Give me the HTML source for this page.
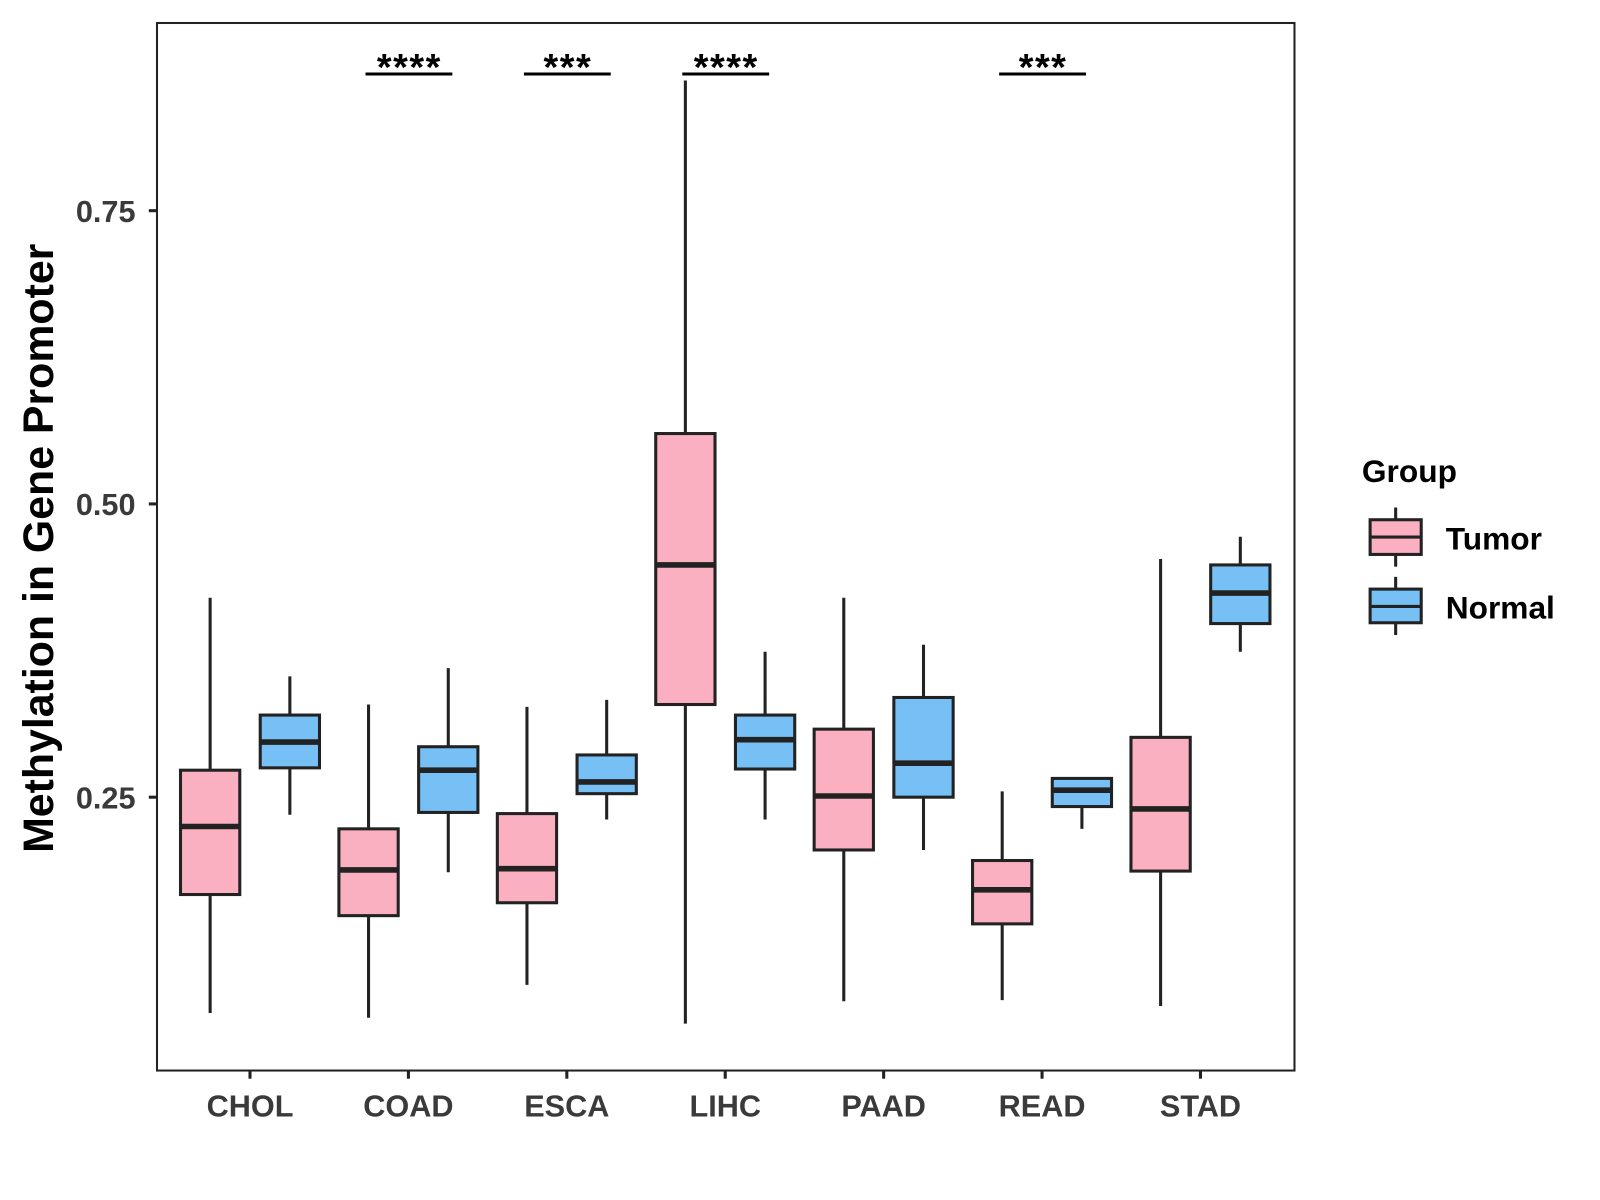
<!DOCTYPE html>
<html><head><meta charset="utf-8"><style>
html,body{margin:0;padding:0;background:#fff;}
svg{display:block;font-family:"Liberation Sans",Arial,sans-serif;}
</style></head><body>
<svg id="chart" width="1600" height="1200" viewBox="0 0 1600 1200" xmlns="http://www.w3.org/2000/svg">
<g id="root" transform="translate(-1.41,0.56) scale(1.022,1.02)">
<rect x="155" y="22" width="1113" height="1027" fill="#fff" stroke="#222" stroke-width="2"/>
<g id="marks"></g>
<text transform="translate(53,537) rotate(-90)" text-anchor="middle" font-size="42" font-weight="bold" fill="#000">Methylation in Gene Promoter</text>
<g>
<text x="1334" y="472" font-size="31" font-weight="bold">Group</text>
<line x1="1367" y1="497" x2="1367" y2="555" stroke="#222" stroke-width="3"/>
<rect x="1342" y="509" width="50" height="34" fill="#FBB0C1" stroke="#222" stroke-width="3"/>
<line x1="1342" y1="526" x2="1392" y2="526" stroke="#222" stroke-width="3"/>
<text x="1416" y="538" font-size="31" font-weight="bold">Tumor</text>
<line x1="1367" y1="565" x2="1367" y2="622" stroke="#222" stroke-width="3"/>
<rect x="1342" y="577" width="50" height="33" fill="#77C0F6" stroke="#222" stroke-width="3"/>
<line x1="1342" y1="594" x2="1392" y2="594" stroke="#222" stroke-width="3"/>
<text x="1416" y="606" font-size="31" font-weight="bold">Normal</text>
</g>
</g>
</svg>
<script>
const categories=["CHOL","COAD","ESCA","LIHC","PAAD","READ","STAD"];
// [low, q1, median, q3, high]
const tumorStats=[[0.066,0.167,0.225,0.273,0.420],[0.062,0.149,0.188,0.223,0.329],[0.090,0.160,0.189,0.236,0.327],[0.057,0.329,0.448,0.560,0.861],[0.076,0.205,0.251,0.308,0.420],[0.077,0.142,0.171,0.196,0.255],[0.072,0.187,0.240,0.301,0.453]];
const normalStats=[[0.235,0.275,0.297,0.320,0.353],[0.186,0.237,0.273,0.293,0.360],[0.231,0.253,0.263,0.286,0.333],[0.231,0.274,0.299,0.320,0.374],[0.205,0.250,0.279,0.335,0.380],[0.223,0.242,0.256,0.266,0.266],[0.374,0.398,0.424,0.448,0.472]];
const yTicks=[0.25,0.50,0.75];
const yTickLabels=["0.25","0.50","0.75"];
const sigLabels=["","****","***","****","","***",""];
const NS="http://www.w3.org/2000/svg";
const g=document.getElementById('marks');
function y(v){return 781-(v-0.25)*1150;}
function xc(i){return 246+155*i;}
function mk(t,a){const e=document.createElementNS(NS,t);for(const k in a)e.setAttribute(k,a[k]);g.appendChild(e);return e;}
yTicks.forEach((v,i)=>{
  const t=mk('line',{x1:147,x2:155,y1:y(v),y2:y(v),stroke:'#222','stroke-width':3});
  
  
  const l=mk('text',{x:134,y:y(v)+11,'text-anchor':'end','font-size':30,'font-weight':'bold',fill:'#3a3a3a'});
  l.textContent=yTickLabels[i];
  
  
});
function box(cx,s,fill,name){
  const w=mk('line',{x1:cx,x2:cx,y1:y(s[0]),y2:y(s[4]),stroke:'#222','stroke-width':3});
  
  
  const r=mk('rect',{x:cx-29,y:y(s[3]),width:58,height:y(s[1])-y(s[3]),fill:fill,stroke:'#222','stroke-width':3});
  
  
  const m=mk('line',{x1:cx-29,x2:cx+29,y1:y(s[2]),y2:y(s[2]),stroke:'#222','stroke-width':5.5});
  
  
}
categories.forEach((c,i)=>{
  const cx=xc(i);
  box(cx-39,tumorStats[i],'#FBB0C1',c.toLowerCase()+'-tumor');
  box(cx+39,normalStats[i],'#77C0F6',c.toLowerCase()+'-normal');
  const t=mk('line',{x1:cx,x2:cx,y1:1049,y2:1057,stroke:'#222','stroke-width':3});
  
  
  const l=mk('text',{x:cx,y:1094,'text-anchor':'middle','font-size':30,'font-weight':'bold',fill:'#3a3a3a'});
  l.textContent=c;
  
  
  if(sigLabels[i]){
    const b=mk('line',{x1:cx-42,x2:cx+43,y1:72,y2:72,stroke:'#000','stroke-width':3});
    
    
    const s=mk('text',{x:cx+1,y:78,'text-anchor':'middle','font-size':37,'font-weight':'bold','letter-spacing':1.5,fill:'#000'});
    s.textContent=sigLabels[i];
    
    
  }
});
</script>
</body></html>
